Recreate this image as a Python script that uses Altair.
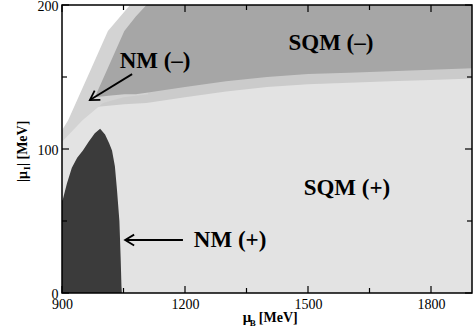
import altair as alt
import pandas as pd

# ---------------- data ----------------
# upper-left empty region: boundary mu_B [MeV] -> |mu_I| [MeV]
white_x = [900, 915, 937, 973, 1012, 1066]
white_y = [113, 120, 134, 157, 182, 200]

# lighter dotted strip along the empty region
strip_x = [900, 950, 1000, 1050, 1110]
strip_lo = [105, 120, 132, 136, 138]

# transition zone below the dense band
mid_x = [975, 1013, 1052, 1106, 1200, 1300, 1400, 1500, 1600, 1700, 1800, 1900]
mid_lo = [129, 130, 131, 132, 136, 140, 143, 145, 146, 147, 148, 149]

# dense dotted band (NM(-) / SQM(-))
dense_x = [980, 1013, 1052, 1080, 1106, 1200, 1300, 1400, 1500, 1600, 1700, 1800, 1900]
dense_lo = [136, 137, 138, 138, 139, 143, 147, 150, 152, 153, 154, 155, 156]
dense_hi = [136, 157, 182, 192, 200, 200, 200, 200, 200, 200, 200, 200, 200]

# NM(+) region (upper edge, lower edge is |mu_I| = 0)
nm_x = [900, 902, 912, 924, 937, 951, 965, 980, 993, 1005, 1015, 1022, 1029, 1034, 1040, 1043, 1045, 1046]
nm_top = [64, 65, 76, 87, 94, 99, 105, 111, 114, 110, 104, 99, 88, 72, 50, 25, 5, 0]

# region labels
lab_text = ["SQM (\u2013)", "NM (\u2013)", "SQM (+)", "NM (+)"]
lab_x = [1556, 1127, 1595, 1310]
lab_y = [168.5, 156, 68, 32]

# arrows: start -> tip
arr_id = ["a", "a", "b", "b"]
arr_x = [1071, 968, 1195, 1054]
arr_y = [152, 134, 36.8, 36.8]
head_x = [968, 1054]
head_y = [134, 36.8]
head_ang = [238, 270]

# axis ticks
x_major = [900, 1200, 1500, 1800]
x_minor = [1050, 1350, 1650]
y_major = [0, 100, 200]
y_minor = [50, 150]

# ---------------- chart ----------------
W, H = 410, 288
FONT = "Liberation Serif"
XS = alt.Scale(domain=[900, 1900], nice=False, zero=False)
YS = alt.Scale(domain=[0, 200], nice=False, zero=False)
XA = alt.Axis(values=x_major, ticks=False, domain=False, grid=False, title=None,
              labelFont=FONT, labelFontSize=14, labelColor="black", labelPadding=4,
              format="d", labelFlush=False)
YA = alt.Axis(values=y_major, ticks=False, domain=False, grid=False, title=None,
              labelFont=FONT, labelFontSize=14, labelColor="black", labelPadding=4,
              format="d", labelFlush=False, labelOffset=1)


def X(f):
    return alt.X(f, type="quantitative", scale=XS, axis=XA)


def Y(f):
    return alt.Y(f, type="quantitative", scale=YS, axis=YA)


mid = alt.Chart(pd.DataFrame({"x": mid_x, "lo": mid_lo})).mark_area(
    color="#cbcbcb", opacity=1
).encode(x=X("x"), y=Y("lo"), y2=alt.datum(200))

strip = alt.Chart(pd.DataFrame({"x": strip_x, "lo": strip_lo})).mark_area(
    color="#d3d3d3", opacity=1
).encode(x=X("x"), y=Y("lo"), y2=alt.datum(200))

dense = alt.Chart(pd.DataFrame({"x": dense_x, "lo": dense_lo, "hi": dense_hi})).mark_area(
    color="#a6a6a6", opacity=1
).encode(x=X("x"), y=Y("lo"), y2="hi:Q")

white = alt.Chart(pd.DataFrame({"x": white_x, "y": white_y})).mark_area(
    color="white", opacity=1
).encode(x=X("x"), y=Y("y"), y2=alt.datum(200))

nm = alt.Chart(pd.DataFrame({"x": nm_x, "y": nm_top})).mark_area(
    color="#3b3b3b", opacity=1
).encode(x=X("x"), y=Y("y"), y2=alt.datum(0))

labels = alt.Chart(pd.DataFrame({"x": lab_x, "y": lab_y, "t": lab_text})).mark_text(
    font=FONT, fontWeight="bold", fontSize=23, color="black", baseline="alphabetic", align="center"
).encode(x=X("x"), y=Y("y"), text="t:N")

arrows = alt.Chart(pd.DataFrame({"x": arr_x, "y": arr_y, "id": arr_id})).mark_line(
    color="black", strokeWidth=1.8
).encode(x=X("x"), y=Y("y"), detail="id:N")

heads = alt.Chart(pd.DataFrame({"x": head_x, "y": head_y, "a": head_ang})).mark_point(
    shape="M-0.6,1 L0,0 L0.6,1", filled=False, stroke="black", strokeWidth=1.8, size=324, opacity=1
).encode(x=X("x"), y=Y("y"), angle=alt.Angle("a:Q", scale=None))

# ticks (inside, on all four sides)
tk_x = pd.DataFrame({"v": x_major + x_minor, "len": [7] * len(x_major) + [5] * len(x_minor)})
tk_y = pd.DataFrame({"v": y_major + y_minor, "len": [7] * len(y_major) + [5] * len(y_minor)})
tick_layers = []
for ln in (7, 5):
    dx_ = tk_x[tk_x["len"] == ln]
    dy_ = tk_y[tk_y["len"] == ln]
    tick_layers.append(alt.Chart(dx_).mark_rule(color="black", strokeWidth=1.2).encode(
        x=X("v"), y=alt.value(H), y2=alt.value(H - ln)))
    tick_layers.append(alt.Chart(dx_).mark_rule(color="black", strokeWidth=1.2).encode(
        x=X("v"), y=alt.value(0), y2=alt.value(ln)))
    tick_layers.append(alt.Chart(dy_).mark_rule(color="black", strokeWidth=1.2).encode(
        y=Y("v"), x=alt.value(0), x2=alt.value(ln)))
    tick_layers.append(alt.Chart(dy_).mark_rule(color="black", strokeWidth=1.2).encode(
        y=Y("v"), x=alt.value(W), x2=alt.value(W - ln)))

frame = alt.Chart(pd.DataFrame({"k": [0]})).mark_rect(
    fill=None, stroke="black", strokeWidth=1.5
).encode(x=alt.value(0), x2=alt.value(W), y=alt.value(0), y2=alt.value(H))

# axis titles (with subscripts) as text pieces
xt = pd.DataFrame({"x": [1341, 1358, 1380], "y": [-20.1, -22.6, -20.1],
                   "t": ["\u03bc", "B", "[MeV]"], "s": [15, 9, 14]})
x_title = alt.Chart(xt).mark_text(
    font=FONT, fontWeight="bold", color="black", baseline="alphabetic", align="left"
).encode(x=X("x"), y=Y("y"), text="t:N", size=alt.Size("s:Q", scale=None))

yt_x, yt_y = 814, 77
yt1 = alt.Chart(pd.DataFrame({"x": [yt_x], "y": [yt_y], "t": ["|\u03bc"]})).mark_text(
    font=FONT, fontWeight="bold", fontSize=14, color="black", baseline="alphabetic",
    align="left", angle=270).encode(x=X("x"), y=Y("y"), text="t:N")
yt2 = alt.Chart(pd.DataFrame({"x": [yt_x], "y": [yt_y], "t": ["I"]})).mark_text(
    font=FONT, fontWeight="bold", fontSize=9, color="black", baseline="alphabetic",
    align="left", angle=270, dx=12, dy=3).encode(x=X("x"), y=Y("y"), text="t:N")
yt3 = alt.Chart(pd.DataFrame({"x": [yt_x], "y": [yt_y], "t": ["|  [MeV]"]})).mark_text(
    font=FONT, fontWeight="bold", fontSize=14, color="black", baseline="alphabetic",
    align="left", angle=270, dx=16).encode(x=X("x"), y=Y("y"), text="t:N")

chart = alt.layer(
    mid, strip, dense, white, nm, labels, arrows, heads, *tick_layers, frame,
    x_title, yt1, yt2, yt3
).properties(
    width=W, height=H,
    autosize=alt.AutoSizeParams(type="none"),
    padding={"left": 62, "top": 5, "right": 4, "bottom": 37},
    background="white",
).configure_view(fill="#e3e3e3", stroke=None)

chart.save("out.html", embed_options={"renderer": "svg", "actions": False})
